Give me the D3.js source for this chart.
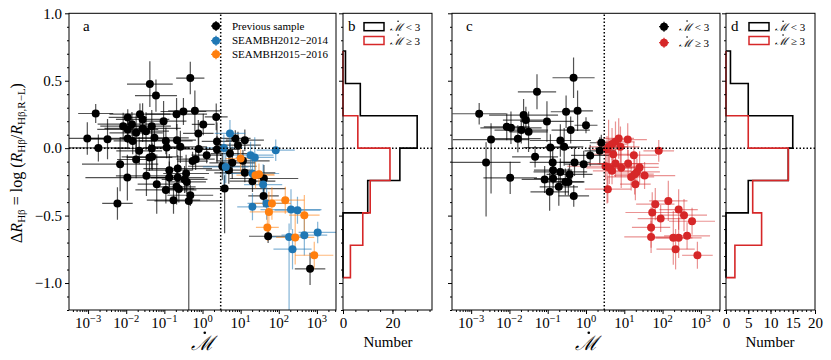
<!DOCTYPE html>
<html>
<head>
<meta charset="utf-8">
<script src="https://cdn.jsdelivr.net/npm/d3@7"></script>
<style>
  body { margin: 0; background: #fff; }
  text { font-family: "Liberation Serif", "DejaVu Serif", serif; fill: #000; }
  .mdot { font-family: "DejaVu Serif", serif; font-style: italic; }
</style>
</head>
<body>
<svg id="chart" width="831" height="360"></svg>
<script>
// points: [log10 Mdot, dR, xerr (dex), yerr up, yerr down (optional)]
const prevSample = [
  [-0.32, 0.52, 0.37, 0.12], [-1.38, 0.475, 0.6, 0.17], [-1.22, 0.39, 0.55, 0.12],
  [-2.80, 0.257, 0.46, 0.07], [-0.50, 0.272, 0.6, 0.1], [-0.68, 0.252, 0.8, 0.12],
  [-0.20, 0.277, 0.7, 0.15], [0.36, 0.232, 0.3, 0.1], [-1.64, 0.252, 0.8, 0.08],
  [-1.57, 0.213, 0.7, 0.12], [-1.96, 0.228, 0.5, 0.06], [-1.02, 0.20, 0.6, 0.15],
  [0.02, 0.176, 0.3, 0.08], [-2.08, 0.163, 0.6, 0.1], [-1.85, 0.178, 0.9, 0.09],
  [-1.33, 0.163, 0.5, 0.12], [-1.57, 0.146, 1.0, 0.1], [-1.48, 0.126, 0.6, 0.14],
  [-0.11, 0.109, 0.4, 0.1], [-1.96, 0.139, 0.8, 0.1], [-1.74, 0.114, 0.7, 0.13],
  [-1.26, 0.077, 0.9, 0.1], [-3.02, 0.072, 0.48, 0.12], [-2.49, 0.067, 0.6, 0.15],
  [-1.96, 0.072, 1.0, 0.08], [-1.83, 0.054, 0.5, 0.1], [-0.96, 0.054, 0.7, 0.1],
  [-0.67, 0.059, 0.5, 0.12], [0.38, 0.05, 0.4, 0.14], [-2.73, 0.002, 0.8, 0.1],
  [-1.66, -0.02, 0.6, 0.1], [-1.33, -0.002, 1.0, 0.15], [-0.94, 0.005, 0.6, 0.08],
  [-0.58, 0.01, 0.7, 0.12], [-0.10, -0.007, 0.5, 0.1], [0.38, -0.01, 0.6, 0.1],
  [0.11, -0.052, 0.4, 0.06], [-1.74, -0.084, 0.5, 0.14], [-1.39, -0.069, 0.6, 0.1],
  [-1.32, -0.064, 0.8, 0.1], [-2.16, -0.119, 1.0, 0.2], [-0.18, -0.082, 0.5, 0.08],
  [-0.26, -0.096, 0.4, 0.07], [-0.87, -0.163, 0.6, 0.12], [-0.65, -0.151, 0.9, 0.1],
  [-0.43, -0.188, 0.6, 0.14], [-1.97, -0.218, 1.1, 0.17], [-1.47, -0.205, 0.8, 0.15],
  [-0.87, -0.218, 0.5, 0.12], [-0.65, -0.218, 0.7, 0.1], [-0.47, -0.232, 0.6, 0.1],
  [-1.20, -0.267, 0.5, 0.22], [-0.68, -0.287, 0.5, 0.13], [-0.96, -0.31, 0.8, 0.1],
  [-2.23, -0.41, 0.4, 0.12], [-0.76, -0.386, 0.7, 0.1], [-0.62, -0.302, 0.4, 0.1],
  [-0.41, -0.25, 0.5, 0.09], [-0.32, -0.349, 0.6, 0.08], [-0.36, -0.391, 0.9, 0.05, 0.81],
  [0.86, 0.072, 0.4, 0.06], [1.11, 0.059, 0.5, 0.08], [0.93, 0.022, 0.6, 0.1],
  [0.72, -0.04, 0.5, 0.08], [0.78, -0.109, 0.6, 0.12], [1.06, -0.094, 0.7, 0.08],
  [0.52, -0.134, 0.9, 0.1], [0.69, -0.163, 0.6, 0.1], [1.11, -0.183, 0.8, 0.07],
  [1.61, -0.225, 0.9, 0.1], [1.31, -0.245, 0.6, 0.08], [0.58, -0.30, 1.6, 0.1, 0.33],
  [1.60, -0.354, 0.4, 0.08], [1.72, -0.653, 0.5, 0.05], [2.82, -0.895, 0.4, 0.12]
];
const seambh1214 = [
  [0.72, 0.109, 0.4, 0.1], [0.56, 0.002, 0.5, 0.1, 0.3], [1.92, -0.015, 0.5, 0.08],
  [1.26, -0.052, 0.6, 0.1], [1.37, -0.069, 0.5, 0.15], [0.61, -0.139, 0.6, 0.12],
  [1.31, -0.188, 0.7, 0.1], [1.59, -0.27, 0.5, 0.15], [1.68, -0.41, 0.5, 0.12],
  [1.31, -0.435, 0.4, 0.1], [2.32, -0.455, 0.8, 0.15], [2.49, -0.46, 0.6, 0.1],
  [2.27, -0.658, 0.5, 0.1, 0.55], [2.67, -0.645, 0.6, 0.15], [3.02, -0.625, 0.5, 0.08],
  [2.36, -0.749, 0.5, 0.15]
];
const seambh1516 = [
  [1.0, -0.077, 0.4, 0.1], [1.39, -0.20, 0.5, 0.1], [1.48, -0.193, 0.4, 0.08],
  [1.82, -0.41, 0.5, 0.12], [2.17, -0.386, 0.5, 0.1], [1.74, -0.473, 0.5, 0.15],
  [2.67, -0.497, 0.4, 0.15], [1.70, -0.588, 0.3, 0.1], [2.43, -0.662, 0.5, 0.2],
  [2.93, -0.794, 0.5, 0.1]
];
const lowRateC = [
  [-0.325, 0.522, 0.55, 0.15], [-1.28, 0.418, 0.5, 0.13], [-2.79, 0.255, 0.7, 0.08],
  [-1.63, 0.245, 0.9, 0.12], [-1.57, 0.208, 0.6, 0.1], [-1.02, 0.198, 0.7, 0.15],
  [-0.52, 0.27, 0.4, 0.12], [-0.22, 0.277, 0.4, 0.15], [-2.07, 0.158, 0.6, 0.1],
  [-1.96, 0.151, 0.8, 0.12], [-1.69, 0.134, 0.7, 0.1], [-1.50, 0.121, 0.5, 0.15],
  [-1.78, 0.07, 0.6, 0.1], [-2.48, 0.064, 1.0, 0.12, 0.4], [-0.40, 0.134, 0.5, 0.1],
  [0.0, 0.17, 0.3, 0.06], [-0.67, 0.057, 0.8, 0.12], [-0.93, 0.004, 0.7, 0.1],
  [-0.57, 0.01, 0.5, 0.14], [0.40, 0.04, 0.3, 0.06], [0.36, -0.02, 0.4, 0.1],
  [0.11, -0.054, 0.5, 0.08], [-0.06, -0.119, 0.5, 0.1], [-0.30, -0.106, 0.4, 0.1],
  [-1.33, -0.064, 0.6, 0.08], [-2.61, -0.106, 0.9, 0.15, 0.4], [-0.87, -0.106, 0.6, 0.12],
  [-0.86, -0.163, 0.5, 0.1], [-0.67, -0.176, 0.7, 0.1], [-0.43, -0.195, 0.6, 0.08],
  [-1.98, -0.22, 0.7, 0.12], [-1.08, -0.232, 0.6, 0.1], [-0.86, -0.225, 0.5, 0.1],
  [-0.54, -0.25, 0.5, 0.1], [-0.46, -0.25, 0.4, 0.1], [-0.71, -0.287, 0.5, 0.14],
  [-0.95, -0.324, 0.5, 0.14], [-0.32, -0.354, 0.4, 0.08]
];
const highRateC = [
  [0.854, 0.072, 0.4, 0.15], [1.09, 0.064, 0.5, 0.12], [0.77, 0.047, 0.5, 0.15],
  [0.68, 0.03, 0.4, 0.12], [0.59, 0.01, 0.5, 0.2], [0.90, 0.01, 0.5, 0.15],
  [0.55, -0.01, 0.4, 0.1, 0.4], [1.90, -0.02, 0.4, 0.08], [0.71, -0.045, 0.5, 0.12],
  [1.25, -0.052, 0.6, 0.1], [0.51, -0.134, 1.0, 0.1], [0.61, -0.146, 0.6, 0.12],
  [0.77, -0.114, 0.7, 0.1], [0.92, -0.146, 0.5, 0.15], [0.68, -0.168, 0.5, 0.1],
  [1.10, -0.114, 0.8, 0.1], [1.40, -0.143, 0.5, 0.12], [1.33, -0.176, 0.6, 0.1],
  [1.27, -0.193, 0.5, 0.15], [1.18, -0.213, 0.6, 0.1], [1.53, -0.203, 0.8, 0.1],
  [1.29, -0.267, 0.4, 0.12], [0.57, -0.304, 0.6, 0.1], [1.81, -0.415, 0.5, 0.12],
  [2.15, -0.391, 0.5, 0.15], [1.73, -0.477, 0.7, 0.15], [1.95, -0.522, 0.6, 0.1],
  [2.42, -0.455, 0.5, 0.15], [2.56, -0.497, 0.6, 0.12], [2.77, -0.542, 0.6, 0.1],
  [1.70, -0.588, 0.5, 0.15], [1.70, -0.658, 0.7, 0.12], [2.28, -0.665, 0.5, 0.2],
  [2.42, -0.665, 0.6, 0.15], [2.64, -0.65, 0.6, 0.1], [2.34, -0.749, 0.5, 0.15],
  [2.91, -0.794, 0.4, 0.1]
];

// histograms (horizontal), counts per bin from bottom edge up
const binEdges = [-0.96, -0.72, -0.48, -0.24, 0, 0.24, 0.48, 0.72];
const histBLow  = [0, 0, 10, 23, 30, 7, 1];
const histBHigh = [3, 8, 11, 19, 6, 0, 0];
const histDLow  = [0, 0, 5, 14, 15, 5, 1];
const histDHigh = [2, 8, 6, 14, 5, 0, 0];

const yTicks = [-1.0, -0.5, 0.0, 0.5, 1.0];
const xLogTicks = [1e-3, 1e-2, 1e-1, 1e0, 1e1, 1e2, 1e3];
const xTicksB = [0, 20];
const xTicksD = [0, 5, 10, 15, 20];
const mdotCut = 3;

const BLACK = '#000', BLUE = '#1f77b4', ORANGE = '#ff7f0e', RED = '#d62728';
const svg = d3.select('#chart');

const y = d3.scaleLinear().domain([-1.2, 1.0]).range([310, 13.3]);
const xa = d3.scaleLog().domain([10 ** -3.5, 10 ** 3.5]).range([69, 336]);
const xb = d3.scaleLinear().domain([0, 36]).range([343, 432]);
const xc = d3.scaleLog().domain([10 ** -3.5, 10 ** 3.5]).range([452, 720]);
const xd = d3.scaleLinear().domain([0, 20]).range([726, 815]);

const minorY = d3.range(-12, 11).map(i => i / 10).filter(v => !yTicks.some(t => Math.abs(t - v) < 1e-9));
const sup = { '-': '\u2212', '0': '0', '1': '1', '2': '2', '3': '3' };

function clip(id, x) {
  svg.append('clipPath').attr('id', id).append('rect')
    .attr('x', x.range()[0]).attr('y', y.range()[1])
    .attr('width', x.range()[1] - x.range()[0]).attr('height', y.range()[0] - y.range()[1]);
}

function yAxis(x, labels) {
  const g = svg.append('g').attr('transform', `translate(${x.range()[0]},0)`);
  g.call(d3.axisLeft(y).tickValues(yTicks).tickSize(4).tickPadding(3)
    .tickFormat(labels ? (d => d3.format('.1f')(d).replace('-', '\u2212')) : ''));
  g.append('g').call(d3.axisLeft(y).tickValues(minorY).tickSize(2).tickFormat(''));
  g.selectAll('.domain').remove();
  g.selectAll('text').attr('font-size', 15).attr('font-family', null);
}

function xLogAxis(x) {
  const g = svg.append('g').attr('transform', `translate(0,${y.range()[0]})`);
  g.call(d3.axisBottom(x).tickValues(xLogTicks).tickSize(4).tickPadding(4).tickFormat(''));
  const minor = [];
  for (let e = -4; e <= 3; e++) for (let m = 2; m <= 9; m++) {
    const v = m * 10 ** e;
    if (v > x.domain()[0] && v < x.domain()[1]) minor.push(v);
  }
  g.append('g').call(d3.axisBottom(x).tickValues(minor).tickSize(2).tickFormat(''));
  g.selectAll('.domain').remove();
  const t = g.selectAll('.lbl').data(xLogTicks).enter().append('text')
    .attr('x', d => x(d)).attr('y', 18).attr('text-anchor', 'middle').attr('font-size', 15);
  t.append('tspan').text('10');
  t.append('tspan').attr('dy', -6).attr('font-size', 10.5)
    .text(d => String(Math.round(Math.log10(d))).split('').map(c => sup[c]).join(''));
}

function xLinAxis(x, ticks, minorStep) {
  const g = svg.append('g').attr('transform', `translate(0,${y.range()[0]})`);
  g.call(d3.axisBottom(x).tickValues(ticks).tickSize(4).tickPadding(3));
  g.append('g').call(d3.axisBottom(x).tickValues(d3.range(0, x.domain()[1] + 1e-9, minorStep)).tickSize(2).tickFormat(''));
  g.selectAll('.domain').remove();
  g.selectAll('text').attr('font-size', 15).attr('font-family', null);
}

function frame(x) {
  svg.append('rect').attr('x', x.range()[0]).attr('y', y.range()[1])
    .attr('width', x.range()[1] - x.range()[0]).attr('height', y.range()[0] - y.range()[1])
    .attr('fill', 'none').attr('stroke', '#000').attr('stroke-width', 1);
}

function zeroLine(x) {
  svg.append('line').attr('x1', x.range()[0]).attr('x2', x.range()[1])
    .attr('y1', y(0)).attr('y2', y(0))
    .attr('stroke', '#000').attr('stroke-width', 1.5).attr('stroke-dasharray', '1.5,2');
}

function cutLine(x) {
  svg.append('line').attr('x1', x(mdotCut)).attr('x2', x(mdotCut))
    .attr('y1', y.range()[0]).attr('y2', y.range()[1])
    .attr('stroke', '#000').attr('stroke-width', 1.5).attr('stroke-dasharray', '1.5,2');
}

function errorBars(g, x, pts, color, op) {
  const e = g.append('g').attr('stroke', color).attr('stroke-opacity', op).attr('stroke-width', 1.2);
  e.selectAll('.h').data(pts).enter().append('line')
    .attr('x1', d => x(10 ** (d[0] - d[2]))).attr('x2', d => x(10 ** (d[0] + d[2])))
    .attr('y1', d => y(d[1])).attr('y2', d => y(d[1]));
  e.selectAll('.v').data(pts).enter().append('line')
    .attr('x1', d => x(10 ** d[0])).attr('x2', d => x(10 ** d[0]))
    .attr('y1', d => y(d[1] + d[3])).attr('y2', d => y(d[1] - (d[4] !== undefined ? d[4] : d[3])));
}

function dots(g, x, pts, color) {
  g.append('g').selectAll('circle').data(pts).enter().append('circle')
    .attr('cx', d => x(10 ** d[0])).attr('cy', d => y(d[1])).attr('r', 4).attr('fill', color);
}

function hist(x, counts, color) {
  const p = [[0, binEdges[0]]];
  counts.forEach((c, i) => { p.push([c, binEdges[i]]); p.push([c, binEdges[i + 1]]); });
  p.push([0, binEdges[binEdges.length - 1]]);
  svg.append('path').attr('d', d3.line().x(d => x(d[0])).y(d => y(d[1]))(p))
    .attr('fill', 'none').attr('stroke', color).attr('stroke-width', 1.6);
}

// script M followed by optional plain text; the accent dot is drawn over the M
function mdotLabel(g, x, yy, size, rest, anchor) {
  const t = g.append('text').attr('x', x).attr('y', yy).attr('font-size', size)
    .attr('text-anchor', anchor || 'start');
  t.append('tspan').attr('class', 'mdot').text('\u2133');
  if (rest) t.append('tspan').text(rest);
  const bb = t.node().getBBox();
  const w = t.node().getSubStringLength(0, 1);
  g.append('circle').attr('cx', bb.x + w * 0.62).attr('cy', yy - size * 0.86)
    .attr('r', Math.max(0.8, size * 0.065)).attr('fill', '#000');
  return t;
}

function legendMarker(cx, cy, color) {
  svg.append('line').attr('x1', cx - 5).attr('x2', cx + 5).attr('y1', cy).attr('y2', cy)
    .attr('stroke', color).attr('stroke-width', 1.2);
  svg.append('line').attr('x1', cx).attr('x2', cx).attr('y1', cy - 5).attr('y2', cy + 5)
    .attr('stroke', color).attr('stroke-width', 1.2);
  svg.append('circle').attr('cx', cx).attr('cy', cy).attr('r', 4).attr('fill', color);
}

function histLegend(x0) {
  [[BLACK, ' < 3', 26.7], [RED, ' \u2265 3', 40.5]].forEach(([c, s, cy]) => {
    svg.append('rect').attr('x', x0).attr('y', cy - 4).attr('width', 20).attr('height', 8)
      .attr('fill', 'none').attr('stroke', c).attr('stroke-width', 1.5);
    mdotLabel(svg, x0 + 26, cy + 4, 11, s);
  });
}

// ---- panel a ----
clip('clipA', xa);
const ga = svg.append('g').attr('clip-path', 'url(#clipA)');
errorBars(ga, xa, prevSample, BLACK, 0.68);
errorBars(ga, xa, seambh1214, BLUE, 0.55);
errorBars(ga, xa, seambh1516, ORANGE, 0.55);
dots(ga, xa, prevSample, BLACK);
dots(ga, xa, seambh1214, BLUE);
dots(ga, xa, seambh1516, ORANGE);
zeroLine(xa); cutLine(xa);
frame(xa); yAxis(xa, true); xLogAxis(xa);
svg.append('text').attr('x', 83).attr('y', 31).attr('font-size', 15).text('a');
[['Previous sample', BLACK, 26], ['SEAMBH2012\u22122014', BLUE, 40.7], ['SEAMBH2015\u22122016', ORANGE, 54.3]]
  .forEach(([s, c, cy]) => {
    legendMarker(216, cy, c);
    svg.append('text').attr('x', 232).attr('y', cy + 3.5).attr('font-size', 11).text(s);
  });

// ---- panel b ----
zeroLine(xb);
hist(xb, histBLow, BLACK);
hist(xb, histBHigh, RED);
frame(xb); yAxis(xb, false); xLinAxis(xb, xTicksB, 5);
svg.append('text').attr('x', 348).attr('y', 31).attr('font-size', 15).text('b');
histLegend(364);

// ---- panel c ----
clip('clipC', xc);
const gc = svg.append('g').attr('clip-path', 'url(#clipC)');
errorBars(gc, xc, lowRateC, BLACK, 0.68);
errorBars(gc, xc, highRateC, RED, 0.5);
dots(gc, xc, lowRateC, BLACK);
dots(gc, xc, highRateC, RED);
zeroLine(xc); cutLine(xc);
frame(xc); yAxis(xc, false); xLogAxis(xc);
svg.append('text').attr('x', 466).attr('y', 31).attr('font-size', 15).text('c');
legendMarker(664, 26.7, BLACK);
mdotLabel(svg, 679, 30.5, 11, ' < 3');
legendMarker(664, 42.7, RED);
mdotLabel(svg, 679, 46.5, 11, ' \u2265 3');

// ---- panel d ----
zeroLine(xd);
hist(xd, histDLow, BLACK);
hist(xd, histDHigh, RED);
frame(xd); yAxis(xd, false); xLinAxis(xd, xTicksD, 1);
svg.append('text').attr('x', 731).attr('y', 31).attr('font-size', 15).text('d');
histLegend(749);

// ---- axis titles ----
mdotLabel(svg, 202, 350, 20, '', 'middle');
mdotLabel(svg, 586, 350, 20, '', 'middle');
svg.append('text').attr('x', 388).attr('y', 347).attr('text-anchor', 'middle').attr('font-size', 15).text('Number');
svg.append('text').attr('x', 770).attr('y', 347).attr('text-anchor', 'middle').attr('font-size', 15).text('Number');

const yl = svg.append('text').attr('transform', 'translate(22,163) rotate(-90)')
  .attr('text-anchor', 'middle').attr('font-size', 16);
yl.append('tspan').text('\u0394');
yl.append('tspan').attr('font-style', 'italic').text('R');
yl.append('tspan').attr('dy', 3).attr('font-size', 11).text('H\u03b2');
yl.append('tspan').attr('dy', -3).text(' = log (');
yl.append('tspan').attr('font-style', 'italic').text('R');
yl.append('tspan').attr('dy', 3).attr('font-size', 11).text('H\u03b2');
yl.append('tspan').attr('dy', -3).text('/');
yl.append('tspan').attr('font-style', 'italic').text('R');
yl.append('tspan').attr('dy', 3).attr('font-size', 11).text('H\u03b2,R\u2212L');
yl.append('tspan').attr('dy', -3).text(')');
</script>
</body>
</html>
